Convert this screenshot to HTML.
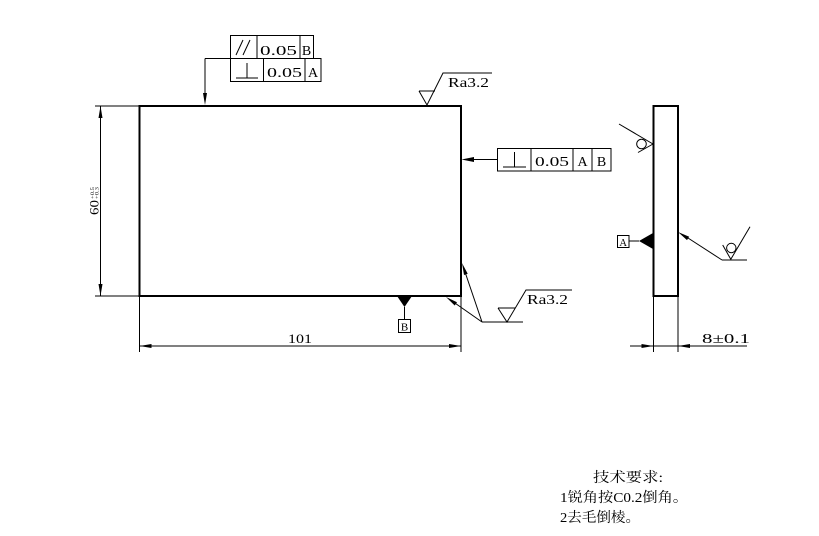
<!DOCTYPE html>
<html>
<head>
<meta charset="utf-8">
<style>
  html,body{margin:0;padding:0;background:#fff;}
  svg{display:block;}
  text{font-family:"Liberation Serif","Noto Serif CJK SC",serif;fill:#000;}
  .cjk{font-family:"Liberation Serif","Noto Serif CJK SC","Noto Sans CJK SC",serif;}
</style>
</head>
<body>
<svg width="819" height="536" viewBox="0 0 819 536" xmlns="http://www.w3.org/2000/svg">
  <rect x="0" y="0" width="819" height="536" fill="#fff"/>

  <!-- Main front view rectangle -->
  <rect x="139.5" y="106" width="321.5" height="190" fill="none" stroke="#000" stroke-width="2"/>

  <!-- Vertical dimension 60 -->
  <g stroke="#000" stroke-width="1" fill="none">
    <line x1="95" y1="106" x2="139" y2="106"/>
    <line x1="95" y1="296" x2="139" y2="296"/>
    <line x1="100.5" y1="106" x2="100.5" y2="296"/>
  </g>
  <polygon points="100.5,106 98.5,118 102.5,118" fill="#000"/>
  <polygon points="100.5,296 98.5,284 102.5,284" fill="#000"/>
  <g transform="translate(98.5,215) rotate(-90)">
    <text x="0" y="0" font-size="13" textLength="15" lengthAdjust="spacingAndGlyphs">60</text>
    <text x="16" y="-4.5" font-size="5" textLength="12" lengthAdjust="spacingAndGlyphs">+0.5</text>
    <text x="16" y="0" font-size="5" textLength="12" lengthAdjust="spacingAndGlyphs">+0.3</text>
  </g>

  <!-- Horizontal dimension 101 -->
  <g stroke="#000" stroke-width="1" fill="none">
    <line x1="139.5" y1="297" x2="139.5" y2="352"/>
    <line x1="461" y1="297" x2="461" y2="352"/>
    <line x1="139.5" y1="346" x2="461" y2="346"/>
  </g>
  <polygon points="139.5,346 151.5,344 151.5,348" fill="#000"/>
  <polygon points="461,346 449,344 449,348" fill="#000"/>
  <text x="288" y="343" font-size="13" textLength="24" lengthAdjust="spacingAndGlyphs">101</text>

  <!-- Top FCF -->
  <g stroke="#000" stroke-width="1" fill="none">
    <rect x="230.5" y="35.5" width="83" height="23"/>
    <line x1="257" y1="35.5" x2="257" y2="58.5"/>
    <line x1="300" y1="35.5" x2="300" y2="58.5"/>
    <rect x="230.5" y="58.5" width="90.5" height="23"/>
    <line x1="263.5" y1="58.5" x2="263.5" y2="81.5"/>
    <line x1="305" y1="58.5" x2="305" y2="81.5"/>
    <!-- // symbol -->
    <line x1="236" y1="55" x2="243" y2="40"/>
    <line x1="243" y1="55" x2="250" y2="40"/>
    <!-- perpendicular symbol -->
    <line x1="236" y1="78" x2="258" y2="78"/>
    <line x1="247" y1="63" x2="247" y2="78"/>
    <!-- leader -->
    <line x1="205" y1="58.5" x2="230.5" y2="58.5"/>
    <line x1="205" y1="58.5" x2="205" y2="95"/>
  </g>
  <polygon points="205,105 203,93 207,93" fill="#000"/>
  <text x="260" y="55" font-size="14" textLength="37" lengthAdjust="spacingAndGlyphs">0.05</text>
  <text x="306.5" y="55" font-size="14" text-anchor="middle">B</text>
  <text x="267" y="77" font-size="14" textLength="35" lengthAdjust="spacingAndGlyphs">0.05</text>
  <text x="313" y="77" font-size="14" text-anchor="middle">A</text>

  <!-- Top Ra3.2 -->
  <g stroke="#000" stroke-width="1" fill="none">
    <polyline points="419,91 435,91"/>
    <polyline points="419,91 427,105 443,73 492,73"/>
  </g>
  <text x="448" y="87" font-size="14" textLength="41" lengthAdjust="spacingAndGlyphs">Ra3.2</text>

  <!-- Right FCF -->
  <g stroke="#000" stroke-width="1" fill="none">
    <rect x="497.5" y="148.5" width="113.5" height="22.5"/>
    <line x1="531" y1="148.5" x2="531" y2="171"/>
    <line x1="573" y1="148.5" x2="573" y2="171"/>
    <line x1="592" y1="148.5" x2="592" y2="171"/>
    <line x1="503" y1="167" x2="526" y2="167"/>
    <line x1="514.5" y1="152" x2="514.5" y2="167"/>
    <line x1="470" y1="159.5" x2="497.5" y2="159.5"/>
  </g>
  <polygon points="461.5,159.5 474,157 474,162" fill="#000"/>
  <text x="535" y="166" font-size="14" textLength="34" lengthAdjust="spacingAndGlyphs">0.05</text>
  <text x="582.5" y="166" font-size="14" text-anchor="middle">A</text>
  <text x="601.5" y="166" font-size="14" text-anchor="middle">B</text>

  <!-- Datum B -->
  <polygon points="397,296 412,296 404.5,307" fill="#000"/>
  <line x1="404.5" y1="307" x2="404.5" y2="319" stroke="#000" stroke-width="1"/>
  <rect x="398.5" y="319.5" width="12" height="13" fill="none" stroke="#000" stroke-width="1"/>
  <text x="404.5" y="330.5" font-size="11" text-anchor="middle">B</text>

  <!-- Bottom right Ra3.2 -->
  <g stroke="#000" stroke-width="1" fill="none">
    <line x1="482" y1="322" x2="464" y2="269"/>
    <line x1="482" y1="322" x2="452" y2="301"/>
    <line x1="482" y1="322" x2="523" y2="322"/>
    <line x1="498" y1="308" x2="515" y2="308"/>
    <polyline points="498,308 507,322 526,290 572,290"/>
  </g>
  <polygon points="462,263 467.7,273.7 464,275" fill="#000"/>
  <polygon points="446,297 457,302.2 454.7,305.5" fill="#000"/>
  <text x="527" y="304" font-size="14" textLength="41" lengthAdjust="spacingAndGlyphs">Ra3.2</text>

  <!-- Side view -->
  <rect x="653.5" y="106" width="24.5" height="190" fill="none" stroke="#000" stroke-width="2"/>
  <g stroke="#000" stroke-width="1" fill="none">
    <line x1="653.5" y1="297" x2="653.5" y2="352"/>
    <line x1="678" y1="297" x2="678" y2="352"/>
    <line x1="630" y1="346" x2="747" y2="346"/>
  </g>
  <polygon points="653.5,346 641.5,344 641.5,348" fill="#000"/>
  <polygon points="678,346 690,344 690,348" fill="#000"/>
  <text x="702" y="343" font-size="14" textLength="48" lengthAdjust="spacingAndGlyphs">8±0.1</text>

  <!-- Datum A -->
  <polygon points="653,233 653,249 639,241" fill="#000"/>
  <line x1="629" y1="241" x2="639" y2="241" stroke="#000" stroke-width="1"/>
  <rect x="617.5" y="235.5" width="11.5" height="12" fill="none" stroke="#000" stroke-width="1"/>
  <text x="623.2" y="246" font-size="10.5" text-anchor="middle">A</text>

  <!-- Left surface symbol on side view -->
  <g stroke="#000" stroke-width="1" fill="none">
    <line x1="619" y1="124" x2="653" y2="144"/>
    <line x1="638" y1="152.5" x2="653" y2="144"/>
    <circle cx="641.5" cy="144" r="4.8"/>
  </g>

  <!-- Right surface symbol on side view -->
  <g stroke="#000" stroke-width="1" fill="none">
    <line x1="688" y1="238" x2="722" y2="260"/>
    <line x1="722" y1="260" x2="747" y2="260"/>
    <polyline points="722.7,245 730.8,259.3 750,226.7"/>
    <circle cx="731.3" cy="248" r="4.7"/>
  </g>
  <polygon points="678,232 687,240.1 689.2,236.7" fill="#000"/>

  <!-- Technical requirements -->
  <text class="cjk" x="593" y="482" font-size="14" textLength="70" lengthAdjust="spacingAndGlyphs">技术要求:</text>
  <text class="cjk" x="560" y="502" font-size="14" textLength="128" lengthAdjust="spacingAndGlyphs">1锐角按C0.2倒角。</text>
  <text class="cjk" x="560" y="522" font-size="14" textLength="80" lengthAdjust="spacingAndGlyphs">2去毛倒棱。</text>
</svg>
</body>
</html>
